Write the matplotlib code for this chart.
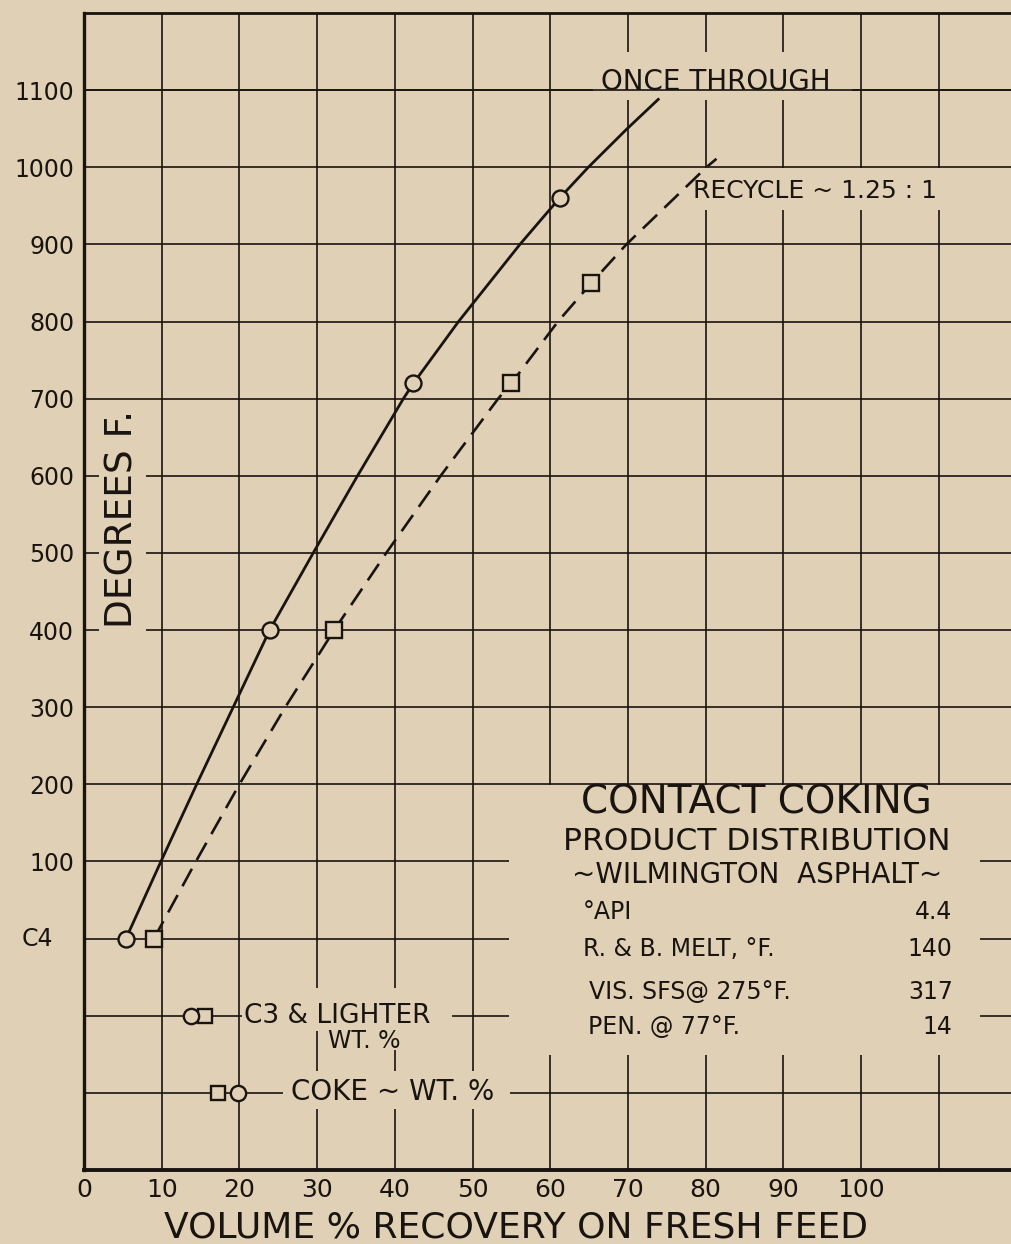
import matplotlib.pyplot as plt
from matplotlib.patches import Rectangle

bg = '#e0d0b5'
ink = '#1a1410'

# once through curve (vol % recovery, deg F)
once_x = [5.4, 9.9, 14.5, 19.2, 23.9, 29.5, 35.2, 41.1, 42.4, 48.2, 56.1, 61.2, 64.9, 69.8, 73.9]
once_y = [0, 100, 200, 300, 400, 500, 600, 700, 720, 800, 900, 960, 1000, 1049, 1088]
once_pts_x = [5.4, 23.9, 42.4, 61.2]
once_pts_y = [0, 400, 720, 960]

# recycle 1.25:1 curve
rec_x = [9.0, 14.4, 20.0, 25.9, 32.2, 38.9, 45.9, 53.3, 55.0, 61.0, 65.3, 69.8, 80.1, 81.4]
rec_y = [0, 100, 200, 300, 400, 500, 600, 700, 720, 800, 850, 900, 1000, 1011]
rec_pts_x = [9.0, 32.2, 55.0, 65.3]
rec_pts_y = [0, 400, 720, 850]

# wt % rows below the C4 line
rows_y = [-100, -200]
rows_once = [13.8, 19.8]   # C3 & lighter, coke
rows_rec = [15.6, 17.2]

x_ticks = list(range(0, 101, 10))
x_grid = list(range(10, 111, 10))
y_ticks = list(range(100, 1101, 100))
y_grid = list(range(-200, 1101, 100))

info_labels = ['°API', 'R. & B. MELT, °F.', 'VIS. SFS@ 275°F.', 'PEN. @ 77°F.']
info_values = ['4.4', '140', '317', '14']
info_x = [64.2, 64.2, 65.0, 64.9]
info_y = [34, -13, -69, -115]

fig = plt.figure(figsize=(10.11, 12.44), dpi=100, facecolor=bg)
ax = fig.add_axes([84 / 1011, 74 / 1244, 927 / 1011, 1157 / 1244])
ax.set_facecolor(bg)
ax.set_xlim(0, 119.3)
ax.set_ylim(-300, 1200)

# grid
for gx in x_grid:
    ax.axvline(gx, color=ink, lw=1.2, zorder=1)
for gy in y_grid:
    ax.axhline(gy, color=ink, lw=1.2, zorder=1)

# blank out areas where lettering breaks the grid
def mask(x0, x1, y0, y1):
    ax.add_patch(Rectangle((x0, y0), x1 - x0, y1 - y0, facecolor=bg,
                           edgecolor='none', zorder=2))

mask(65.5, 98.8, 1087, 1150)     # once through
mask(78.0, 112.5, 944, 999)      # recycle
mask(54.7, 115.3, -151, 199)     # title box
mask(1.9, 8.0, 386, 698)         # degrees f.
mask(20.3, 47.4, -120, -64)      # c3 & lighter
mask(30.4, 42.0, -144, -120)
mask(25.6, 54.8, -221, -172)     # coke
ax.axhline(1100, color=ink, lw=1.2, zorder=2.5)

# curves
ax.plot(once_x, once_y, color=ink, lw=2.0, zorder=3)
ax.plot(rec_x, rec_y, color=ink, lw=1.9, dashes=(7.5, 3.8), zorder=3)
ax.plot(once_pts_x, once_pts_y, 'o', ms=11.5, mfc=bg, mec=ink, mew=1.7, zorder=4)
ax.plot(rec_pts_x, rec_pts_y, 's', ms=11, mfc=bg, mec=ink, mew=1.7, zorder=4)
ax.plot(rows_rec, rows_y, 's', ms=10, mfc=bg, mec=ink, mew=1.7, zorder=4)
ax.plot(rows_once, rows_y, 'o', ms=11, mfc=bg, mec=ink, mew=1.7, zorder=4)

# axes styling
ax.spines['right'].set_visible(False)
ax.spines['left'].set_linewidth(2.4)
ax.spines['top'].set_linewidth(2.0)
ax.spines['bottom'].set_linewidth(2.8)
for s in ['left', 'top', 'bottom']:
    ax.spines[s].set_color(ink)
ax.set_xticks(x_ticks)
ax.set_xticklabels([str(v) for v in x_ticks], fontsize=18, color=ink)
ax.set_yticks(y_ticks)
ax.set_yticklabels([str(v) for v in y_ticks], fontsize=17, color=ink)
ax.tick_params(length=0)
ax.tick_params(axis='y', pad=7)
ax.tick_params(axis='x', pad=6)
ax.text(-0.067, 0, 'C4', transform=ax.get_yaxis_transform(), fontsize=17,
        color=ink, ha='left', va='center')

# labels
ax.text(4.9, 544, 'DEGREES F.', rotation=90, fontsize=27, color=ink,
        ha='center', va='center', zorder=5)
fig.text(516 / 1011, 6 / 1244, 'VOLUME % RECOVERY ON FRESH FEED',
         fontsize=26, color=ink, ha='center', va='baseline')
ax.text(66.5, 1100, 'ONCE THROUGH', fontsize=20, color=ink,
        ha='left', va='baseline', zorder=5)
ax.text(78.4, 969, 'RECYCLE ~ 1.25 : 1', fontsize=18, color=ink,
        ha='left', va='center', zorder=5)
ax.text(20.6, -100, 'C3 & LIGHTER', fontsize=19, color=ink,
        ha='left', va='center', zorder=5)
ax.text(36.1, -133, 'WT. %', fontsize=17, color=ink,
        ha='center', va='center', zorder=5)
ax.text(26.6, -199, 'COKE ~ WT. %', fontsize=20, color=ink,
        ha='left', va='center', zorder=5)

ax.text(86.6, 177, 'CONTACT COKING', fontsize=28, color=ink,
        ha='center', va='center', zorder=5)
ax.text(86.6, 126, 'PRODUCT DISTRIBUTION', fontsize=22.5, color=ink,
        ha='center', va='center', zorder=5)
ax.text(86.6, 82, '~WILMINGTON  ASPHALT~', fontsize=20, color=ink,
        ha='center', va='center', zorder=5)
for lab, val, lx, ly in zip(info_labels, info_values, info_x, info_y):
    ax.text(lx, ly, lab, fontsize=17, color=ink, ha='left', va='center', zorder=5)
    ax.text(111.8, ly, val, fontsize=17, color=ink, ha='right', va='center', zorder=5)

fig.savefig('out.png', dpi=100, facecolor=bg)
